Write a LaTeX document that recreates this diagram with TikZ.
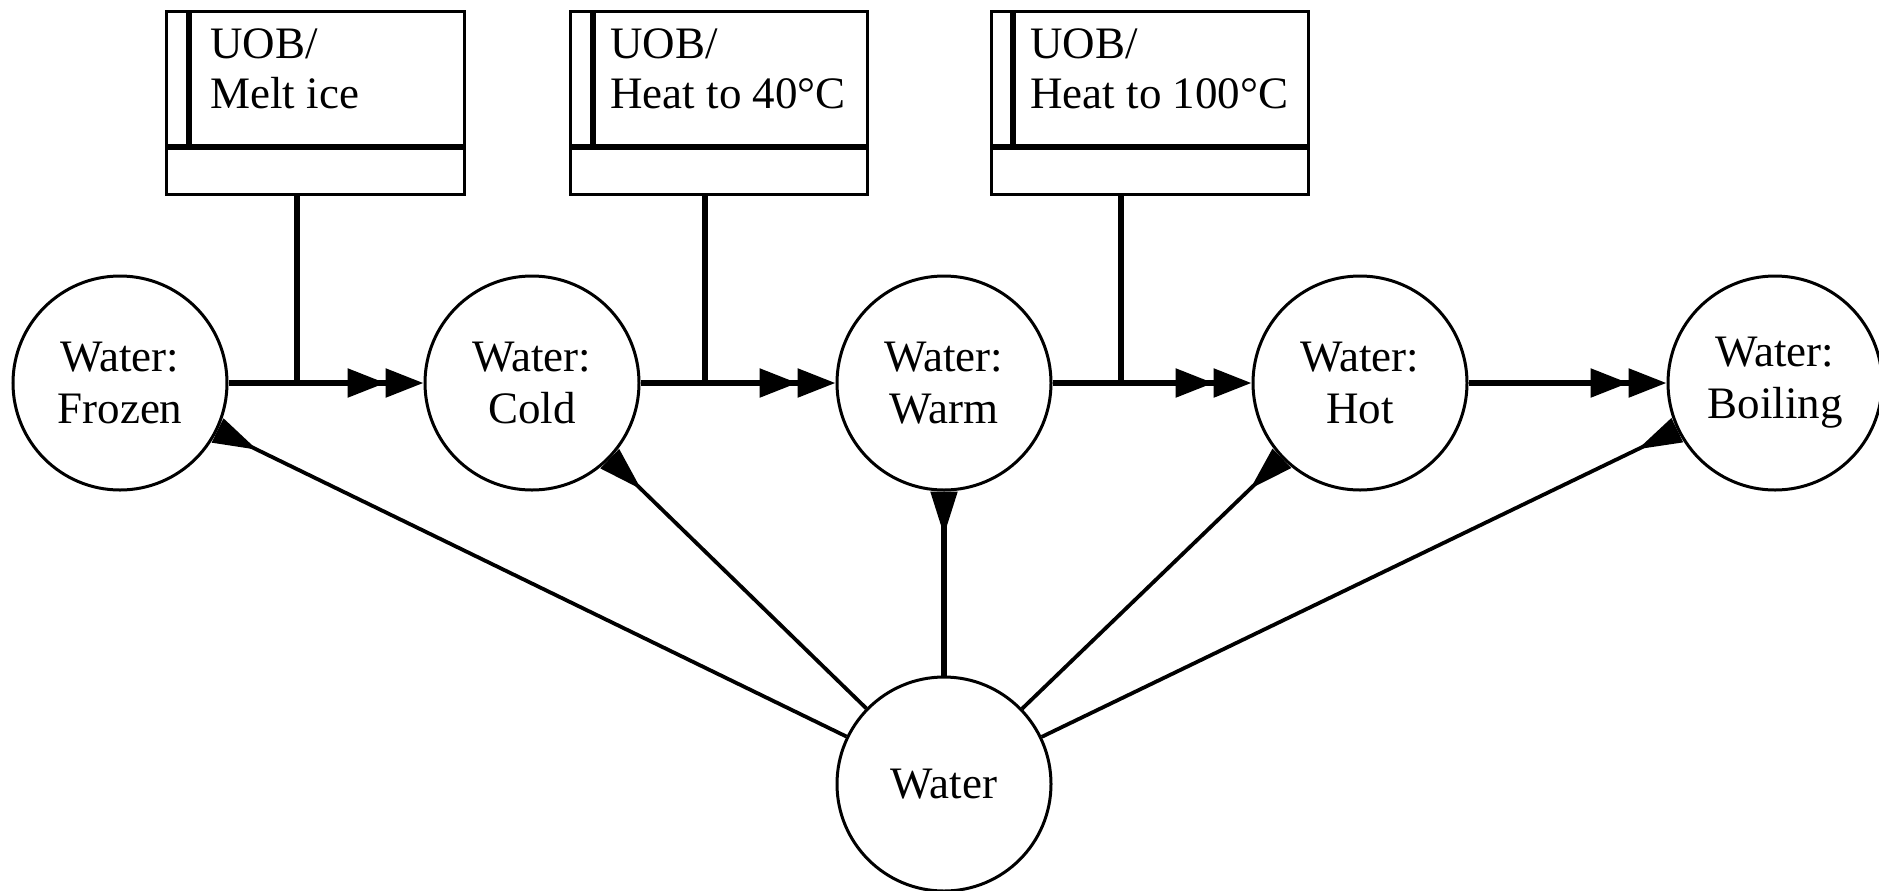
\documentclass[tikz,border=0pt]{standalone}
\usepackage{fontspec}
\setmainfont{Liberation Serif}
\usetikzlibrary{arrows.meta}
\begin{document}
\begin{tikzpicture}[x=0.5pt,y=-0.5pt,
  txt/.style={font=\fontsize{22.5}{26}\selectfont},
  state/.style={circle, draw, line width=1.5pt, minimum size=107pt, inner sep=0pt, align=center, txt},
  ubox/.style={draw, line width=1.6pt, minimum height=91.5pt, inner sep=0pt, anchor=north west},
  inner/.style={line width=2.6pt},
  lbl/.style={anchor=north west, align=left, inner sep=0pt, txt, font=\fontsize{22.5}{25}\selectfont},
  dbl/.style={line width=2.8pt, -{Triangle[length=19pt,width=14pt] Triangle[length=19pt,width=14pt]}},
  feed/.style={line width=2.8pt},
  up/.style={line width=1.9pt, -{Triangle[reversed,length=22pt,width=13pt]}}
]
\useasboundingbox (0,0) rectangle (1879,890);

% states
\node[state] (frozen)  at (120,383)  {Water:\\Frozen};
\node[state] (cold)    at (532,383)  {Water:\\Cold};
\node[state] (warm)    at (944,383)  {Water:\\Warm};
\node[state] (hot)     at (1360,383) {Water:\\Hot};
\node[state] (boiling) at (1775,383) {Water:\\Boiling};
\node[state] (water)   at (944,784)  {Water};

% boxes
\node[ubox, minimum width=149pt]   (b1) at (165,10) {};
\node[ubox, minimum width=148.5pt] (b2) at (569,10) {};
\node[ubox, minimum width=158.5pt] (b3) at (990,10) {};
\draw[inner] (165,147) -- (463,147);
\draw[inner] (189,10) -- (189,147);
\draw[inner] (569,147) -- (866,147);
\draw[inner] (593,10) -- (593,147);
\draw[inner] (990,147) -- (1307,147);
\draw[inner] (1013,10) -- (1013,147);
\node[lbl] (b1t) at (210,28)  {UOB/\\Melt ice};
\node[lbl] (b2t) at (610,28)  {UOB/\\Heat to 40°C};
\node[lbl] (b3t) at (1030,28) {UOB/\\Heat to 100°C};

% junctions
\coordinate (j1) at (297,383);
\coordinate (j2) at (705,383);
\coordinate (j3) at (1121,383);

% horizontal transitions
\draw[dbl] (frozen) -- (cold);
\draw[dbl] (cold) -- (warm);
\draw[dbl] (warm) -- (hot);
\draw[dbl] (hot) -- (boiling);

% box feeds
\draw[feed] (b1.south -| j1) -- (j1);
\draw[feed] (b2.south -| j2) -- (j2);
\draw[feed] (b3.south -| j3) -- (j3);

% from water
\draw[up] (water) -- (frozen);
\draw[up] (water) -- (cold);
\draw[up, line width=2.6pt] (water) -- (warm);
\draw[up] (water) -- (hot);
\draw[up] (water) -- (boiling);
\end{tikzpicture}
\end{document}
